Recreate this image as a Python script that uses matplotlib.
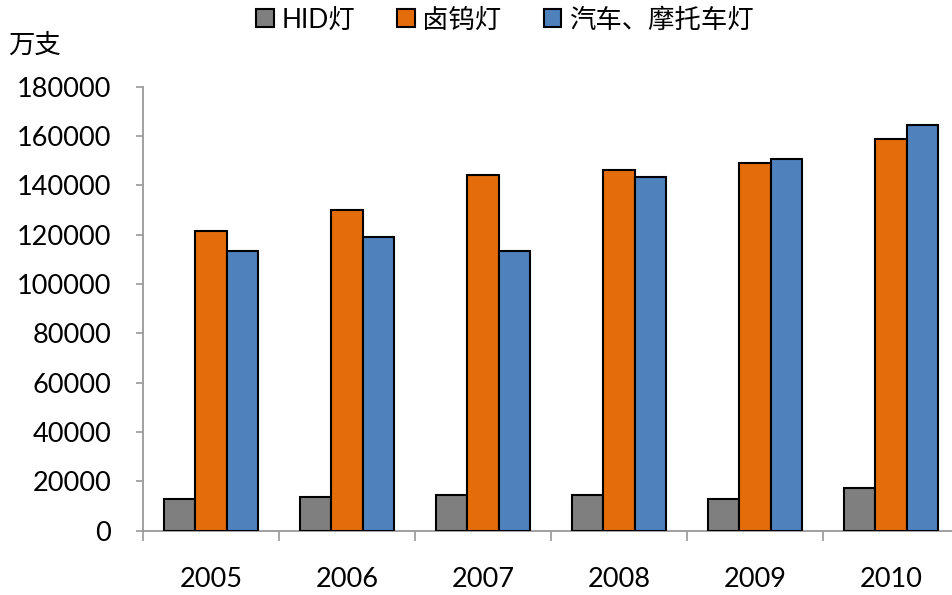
import matplotlib
matplotlib.use("Agg")
import matplotlib.pyplot as plt
import numpy as np
from matplotlib.patches import Patch

plt.rcParams['font.family'] = ['Lato', 'Noto Sans CJK SC', 'DejaVu Sans']

years = ['2005', '2006', '2007', '2008', '2009', '2010']
series_names = ['HID灯', '卤钨灯', '汽车、摩托车灯']
hid = [12900, 13700, 14400, 14400, 12800, 17200]
halogen = [121400, 129900, 144300, 146200, 149000, 159000]
auto = [113400, 119000, 113300, 143400, 150800, 164600]
colors = ['#7F7F7F', '#E46C0A', '#4F81BD']
yticks = list(range(0, 180001, 20000))

fig = plt.figure(figsize=(9.52, 5.95), dpi=100)
ax = fig.add_axes([143/952, (595-530.7)/595, 816/952, 444/595])

x = np.arange(len(years))
w = 0.228
for k, (vals, c) in enumerate(zip([hid, halogen, auto], colors)):
    ax.bar(x + (k-1)*w, vals, width=w, color=c, edgecolor='black', linewidth=1.5, zorder=3)

ax.set_xlim(-0.5, len(years)-0.5)
ax.set_ylim(0, 180000)
ax.set_yticks(yticks)
ax.set_yticklabels([str(v) for v in yticks], fontsize=19.5)
ax.set_xticks(np.arange(-0.5, len(years), 1))
ax.set_xticklabels([])
ax.set_xticks(x, minor=True)
ax.set_xticklabels(years, minor=True, fontsize=19.5)
ax.tick_params(axis='x', which='major', direction='out', length=7, width=1.2, color='#989898')
ax.tick_params(axis='x', which='minor', length=0, pad=26)
ax.tick_params(axis='y', direction='out', length=5, width=1.2, color='#989898', pad=18)

for s in ['top', 'right']:
    ax.spines[s].set_visible(False)
for s in ['left', 'bottom']:
    ax.spines[s].set_color('#989898')
    ax.spines[s].set_linewidth(1.3)

fig.text(8/952, 1-45/595, '万支', fontsize=19, va='center', ha='left',
         family=['Noto Sans CJK SC', 'DejaVu Sans'])

handles = [Patch(facecolor=c, edgecolor='black', linewidth=1.5) for c in colors]
leg = fig.legend(handles, series_names, loc='center', bbox_to_anchor=(505/952, 1-20/595),
                 ncol=3, frameon=False, handlelength=0.65, handleheight=0.65,
                 handletextpad=0.3, columnspacing=1.6,
                 prop={'family': ['Lato', 'Noto Sans CJK SC', 'DejaVu Sans'], 'size': 19})

fig.savefig('out.png', dpi=100)
